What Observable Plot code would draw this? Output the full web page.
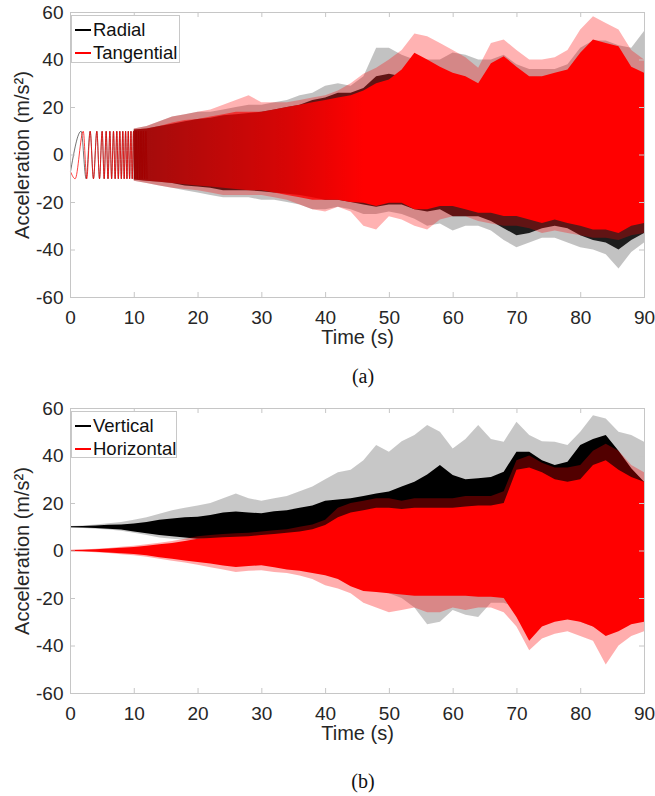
<!DOCTYPE html>
<html>
<head>
<meta charset="utf-8">
<script src="https://cdn.jsdelivr.net/npm/d3@7"></script>
<script src="https://cdn.jsdelivr.net/npm/@observablehq/plot@0.6"></script>
<style>
  html, body { margin: 0; padding: 0; background: #fff; }
  #wrap { position: relative; width: 655px; height: 796px; overflow: hidden; font-family: "Liberation Sans", Arial, sans-serif; }
  .panel { position: absolute; left: 0; }
  .legend { position: absolute; background: #fff; border: 1px solid #c8c8c8; box-sizing: border-box; }
  .legend .row { position: absolute; left: 0; height: 22px; display: flex; align-items: center; font-size: 18.5px; color: #111; white-space: nowrap; }
  .legend .sw { width: 16px; height: 2px; margin-left: 3px; margin-right: 2px; }
  .cap { position: absolute; font-family: "Liberation Serif", "Times New Roman", serif; font-size: 20px; color: #111; transform: translate(-50%, -50%); }
</style>
</head>
<body>
<div id="wrap">
  <div id="pa" class="panel" style="top:0"></div>
  <div id="pb" class="panel" style="top:395px"></div>
  <div class="legend" style="left:71px; top:15px; width:109px; height:48px;">
    <div class="row" style="top:3px"><div class="sw" style="background:#000"></div><span>Radial</span></div>
    <div class="row" style="top:26px"><div class="sw" style="background:#ff0000"></div><span>Tangential</span></div>
  </div>
  <div class="legend" style="left:71px; top:411px; width:106px; height:47px;">
    <div class="row" style="top:3px"><div class="sw" style="background:#000"></div><span>Vertical</span></div>
    <div class="row" style="top:26px"><div class="sw" style="background:#ff0000"></div><span>Horizontal</span></div>
  </div>
  <div class="cap" style="left:363px; top:376px">(a)</div>
  <div class="cap" style="left:363px; top:781px">(b)</div>
</div>
<script>
// ---------- tick labels ----------
const xTicks = [0, 10, 20, 30, 40, 50, 60, 70, 80, 90];
const yTicks = [-60, -40, -20, 0, 20, 40, 60];
const xLabel = "Time (s)";
const yLabel = "Acceleration (m/s²)";

// ---------- panel (a): early chirp (extrema) ----------
const radialChirpT = [0, 1.67, 2.45, 3.08, 3.6, 4.13, 4.55, 4.96, 5.28, 5.59, 5.88, 6.17, 6.45, 6.74, 7.0, 7.26, 7.5, 7.73, 7.97, 8.2, 8.42, 8.64, 8.85, 9.06, 9.27, 9.48, 9.68, 9.88, 10.08, 10.28, 10.48, 10.67, 10.86, 11.05, 11.24, 11.43, 11.62, 11.81, 12.0];
const radialChirpV = [-7, 10, -10, 10, -10, 10, -10, 10, -10, 10, -10, 10, -10, 10, -10, 10, -10, 10, -10, 10, -10, 10, -10, 10, -10, 10, -10, 10, -10, 10, -10, 10, -10, 10, -10, 10, -10, 10, -10];
const tangentialChirpT = [0, 0.73, 2.0, 2.55, 3.08, 3.6, 4.13, 4.55, 4.96, 5.28, 5.59, 5.88, 6.17, 6.45, 6.74, 7.0, 7.26, 7.5, 7.73, 7.97, 8.2, 8.42, 8.64, 8.85, 9.06, 9.27, 9.48, 9.68, 9.88, 10.08, 10.28, 10.48, 10.67, 10.86, 11.05, 11.24, 11.43, 11.62, 11.81, 12.0];
const tangentialChirpV = [-7, -10, 10, -10, 10, -10, 10, -10, 10, -10, 10, -10, 10, -10, 10, -10, 10, -10, 10, -10, 10, -10, 10, -10, 10, -10, 10, -10, 10, -10, 10, -10, 10, -10, 10, -10, 10, -10, 10, -10];

// ---------- panel (a): envelopes, t = 10..90 every 2 s ----------
const timeA = [10, 12, 14, 16, 18, 20, 22, 24, 26, 28, 30, 32, 34, 36, 38, 40, 42, 44, 46, 48, 50, 52, 54, 56, 58, 60, 62, 64, 66, 68, 70, 72, 74, 76, 78, 80, 82, 84, 86, 88, 90];
const radialCoreHi = [10.5, 11, 12, 13, 14, 15, 15.5, 16.5, 17, 17.5, 18, 19, 20, 21, 23, 24, 26, 26, 28, 33, 34, 33, 36, 35, 33, 32, 31, 28, 33, 36, 33, 30, 30, 31, 32, 38, 42, 42, 40, 34, 32];
const radialCoreLo = [-10.5, -11, -11.5, -12, -13, -13.5, -14, -15, -15, -15, -15.5, -16, -16.5, -17, -18, -19, -19, -20, -21, -22, -21, -21, -23, -24, -23, -26, -26, -26, -28, -31, -34, -33, -31, -30, -31, -34, -36, -37, -40, -36, -33];
const radialPeakHi = [11, 12, 14, 16, 17, 18, 18, 19, 20, 21, 21, 22, 23, 25, 26, 29, 30, 29, 33, 45, 45, 42, 40, 40, 40, 43, 42, 40, 40, 42, 38, 36, 36, 36, 38, 45, 48, 48, 46, 45, 52];
const radialPeakLo = [-11, -12, -13, -14, -15, -16, -17, -18, -18, -18, -19, -19, -20, -21, -23, -23, -22, -23, -25, -25, -24, -25, -27, -30, -29, -32, -30, -30, -32, -36, -39, -37, -35, -35, -37, -39, -40, -42, -48, -41, -37];
const tangentialCoreHi = [10.5, 11, 12, 13.5, 14.5, 15, 16, 17, 18, 18, 18, 19, 20, 21, 22, 23, 24, 25, 27, 30, 31.6, 35.8, 42.8, 40, 37, 34.4, 33, 30, 38.4, 41.4, 37, 33, 33, 34.4, 35.8, 42.8, 48.4, 47, 45.6, 37, 34.4];
const tangentialCoreLo = [-10.5, -11, -11.5, -12, -12.5, -13, -13.5, -14, -14.5, -15, -15, -16, -17, -18, -19, -19, -19, -20, -20.3, -21.7, -20.3, -20.3, -23, -23, -21.7, -21.7, -23, -24.5, -24.5, -25.9, -25.9, -27.4, -28.8, -27.4, -28.8, -30, -31.6, -31.6, -33, -30, -28.8];
const tangentialPeakHi = [11, 12, 14, 16, 17, 18, 19, 21, 23, 25, 22, 22, 22, 23, 24, 25, 27, 30, 34, 36.5, 40, 44, 51, 49.8, 47, 44, 41, 36.5, 47, 48.4, 44, 40, 40, 41, 44, 52.6, 58.2, 55.4, 52.6, 44, 40];
const tangentialPeakLo = [-11, -12, -13, -14, -14.5, -15, -16, -17, -17, -17, -17, -18, -19, -21, -23, -24, -22, -24, -30, -31.6, -26, -27.4, -30, -31.6, -27.4, -26, -26, -28, -29, -30, -30, -31, -33, -32, -33, -34, -35, -35, -36, -34, -33];

// ---------- panel (b): envelopes, t = 0..90 every 2 s ----------
const timeB = [0, 2, 4, 6, 8, 10, 12, 14, 16, 18, 20, 22, 24, 26, 28, 30, 32, 34, 36, 38, 40, 42, 44, 46, 48, 50, 52, 54, 56, 58, 60, 62, 64, 66, 68, 70, 72, 74, 76, 78, 80, 82, 84, 86, 88, 90];
const verticalCoreHi = [10.2, 10.3, 10.5, 10.8, 11, 11.4, 12, 13, 13.5, 14, 14.2, 15, 16, 16.4, 16, 15.7, 16.5, 17, 18, 19, 21, 21.5, 22, 23, 24, 24.8, 27, 29, 32, 36, 31.8, 30, 30.4, 31, 33.2, 41.6, 41.6, 38, 36, 37.4, 44.4, 47, 48.6, 42, 34.6, 29];
const verticalCoreLo = [9.8, 9.7, 9.5, 9.2, 8.8, 8, 7.3, 6.5, 6, 5.5, 5, 4.8, 4.5, 4.5, 5, 5, 4.5, 4, 3.5, 3, 2, 0, -3, -6, -10, -14, -16, -17, -18, -18, -18, -18, -18, -18, -19, -20, -24, -25, -25, -25, -26, -28, -30, -28, -26, -25];
const verticalPeakHi = [10.3, 10.5, 11, 11.5, 12, 13, 14, 15.5, 17, 18, 19, 20, 22, 24, 22, 21, 22, 23, 25, 27, 30, 33, 34, 38, 44.4, 41.6, 46, 48.6, 52.8, 50, 43, 47, 52.8, 47, 45.8, 54.2, 48.6, 46, 45.8, 44.4, 50, 57, 55.6, 50, 48.6, 45.8];
const verticalPeakLo = [9.7, 9.5, 9.2, 8.8, 8.3, 7.5, 6.5, 5.5, 5, 4.5, 4, 3.5, 3, 3, 3.5, 3.5, 3, 2.5, 2, 1, 0, -3, -6, -10, -14, -18, -20, -24, -31, -30, -25, -27, -28, -22, -22, -24, -28, -28, -28, -28, -30, -32, -34, -32, -30, -28];
const horizontalCoreHi = [0.2, 0.3, 0.5, 0.8, 1.2, 1.5, 2, 2.6, 3.2, 4, 5, 5.3, 5.6, 5.8, 6, 6.5, 7, 7.5, 8, 9, 10.7, 14, 16, 17, 18, 18, 17.5, 18, 18, 18, 18, 18.5, 19, 19, 20, 34, 35, 33, 30, 29, 30, 36, 38, 34, 31, 29];
const horizontalCoreLo = [-0.2, -0.3, -0.5, -0.8, -1.2, -1.5, -2, -2.8, -3.5, -4.2, -4.8, -5.5, -6.3, -6.9, -6.5, -6.2, -7, -8, -8.5, -9.5, -10.4, -12, -15, -17, -17.5, -18, -18.5, -19, -19, -19, -19, -19, -19.5, -19.5, -20, -28, -38, -32, -30, -29, -30, -32, -36, -34, -31, -30];
const horizontalPeakHi = [0.3, 0.4, 0.7, 1.1, 1.6, 2, 2.6, 3.3, 4, 5, 6, 6.5, 7, 7.3, 7.5, 8, 8.5, 9, 10, 11, 13, 18, 20, 21, 22, 22, 21, 22, 22, 22, 22, 23, 23, 23, 25, 38, 40, 37, 35, 35, 36, 42, 45, 42, 36, 33];
const horizontalPeakLo = [-0.3, -0.4, -0.7, -1.1, -1.6, -2, -2.6, -3.5, -4.3, -5, -6, -7, -8, -9, -8.5, -8.3, -9, -9.5, -10.5, -12, -14.6, -16, -18, -22, -24, -26, -25, -24, -26, -26, -24, -25, -24, -24, -26, -32, -42, -37, -35, -34, -36, -38, -48, -40, -36, -34];

// ---------- build tables ----------
const band = (t, lo, hi) => t.map((d, i) => ({t: d, lo: lo[i], hi: hi[i]}));
const pts = (t, v) => t.map((d, i) => ({t: d, v: v[i]}));

const frameColor = "#c6c6c6";
const textColor = "#262626";

function basePlot(marks, marginTop, height) {
  const innerW = 655 - 70 - 11;
  const innerH = 285;
  return Plot.plot({
    width: 655,
    height,
    marginLeft: 70,
    marginRight: 11,
    marginTop,
    marginBottom: height - marginTop - innerH,
    style: {fontFamily: "'Liberation Sans', Arial, sans-serif", fontSize: "19px", color: textColor, background: "transparent", overflow: "visible"},
    x: {domain: [0, 90], ticks: xTicks, tickSize: 0, tickPadding: 13, label: null, tickFormat: d => String(d)},
    y: {domain: [-60, 60], ticks: yTicks, tickSize: 0, tickPadding: 7, label: null, tickFormat: d => String(d)},
    marks: [
      ...marks,
      Plot.frame({stroke: frameColor}),
      Plot.tickX(xTicks, {x: d => d, insetTop: innerH - 5, stroke: frameColor}),
      Plot.tickX(xTicks, {x: d => d, insetBottom: innerH - 5, stroke: frameColor}),
      Plot.tickY(yTicks, {y: d => d, insetRight: innerW - 5, stroke: frameColor}),
      Plot.tickY(yTicks, {y: d => d, insetLeft: innerW - 5, stroke: frameColor}),
      Plot.text([xLabel], {frameAnchor: "bottom", dy: 46, fontSize: 20, fill: textColor, text: d => d, textAnchor: "middle"}),
      Plot.text([yLabel], {frameAnchor: "left", dx: -48, rotate: -90, fontSize: 20, fill: textColor, text: d => d, textAnchor: "middle"})
    ]
  });
}

// Panel (a)
const plotA = basePlot([
  Plot.line(pts(radialChirpT, radialChirpV), {x: "t", y: "v", stroke: "#000", strokeOpacity: 0.55, strokeWidth: 1, curve: "monotone-x"}),
  Plot.line(pts(tangentialChirpT, tangentialChirpV), {x: "t", y: "v", stroke: "#ff0000", strokeOpacity: 0.75, strokeWidth: 1, curve: "monotone-x"}),
  Plot.areaY(band(timeA, radialPeakLo, radialPeakHi), {x: "t", y1: "lo", y2: "hi", fill: "#000", fillOpacity: 0.24}),
  Plot.areaY(band(timeA, radialCoreLo, radialCoreHi), {x: "t", y1: "lo", y2: "hi", fill: "#000", fillOpacity: 0.85}),
  Plot.areaY(band(timeA, tangentialPeakLo, tangentialPeakHi), {x: "t", y1: "lo", y2: "hi", fill: "#ff0000", fillOpacity: 0.3}),
  Plot.areaY(band(timeA, tangentialCoreLo, tangentialCoreHi), {x: "t", y1: "lo", y2: "hi", fill: "url(#tanFade)"})
], 12, 355);

const ns = "http://www.w3.org/2000/svg";
const defs = document.createElementNS(ns, "defs");
defs.innerHTML = '<linearGradient id="tanFade" x1="0" x2="1" y1="0" y2="0">' +
  '<stop offset="0" stop-color="#ff0000" stop-opacity="0.4"/>' +
  '<stop offset="0.3" stop-color="#ff0000" stop-opacity="0.75"/>' +
  '<stop offset="0.45" stop-color="#ff0000" stop-opacity="1"/>' +
  '<stop offset="1" stop-color="#ff0000" stop-opacity="1"/></linearGradient>';
plotA.insertBefore(defs, plotA.firstChild);
document.getElementById("pa").appendChild(plotA);

// Panel (b)
const plotB = basePlot([
  Plot.areaY(band(timeB, verticalPeakLo, verticalPeakHi), {x: "t", y1: "lo", y2: "hi", fill: "#000", fillOpacity: 0.22}),
  Plot.areaY(band(timeB, verticalCoreLo, verticalCoreHi), {x: "t", y1: "lo", y2: "hi", fill: "#000", fillOpacity: 1}),
  Plot.areaY(band(timeB, horizontalPeakLo, horizontalPeakHi), {x: "t", y1: "lo", y2: "hi", fill: "#ff0000", fillOpacity: 0.32}),
  Plot.areaY(band(timeB, horizontalCoreLo, horizontalCoreHi), {x: "t", y1: "lo", y2: "hi", fill: "#ff0000", fillOpacity: 1})
], 13, 356);
document.getElementById("pb").appendChild(plotB);
</script>
</body>
</html>
